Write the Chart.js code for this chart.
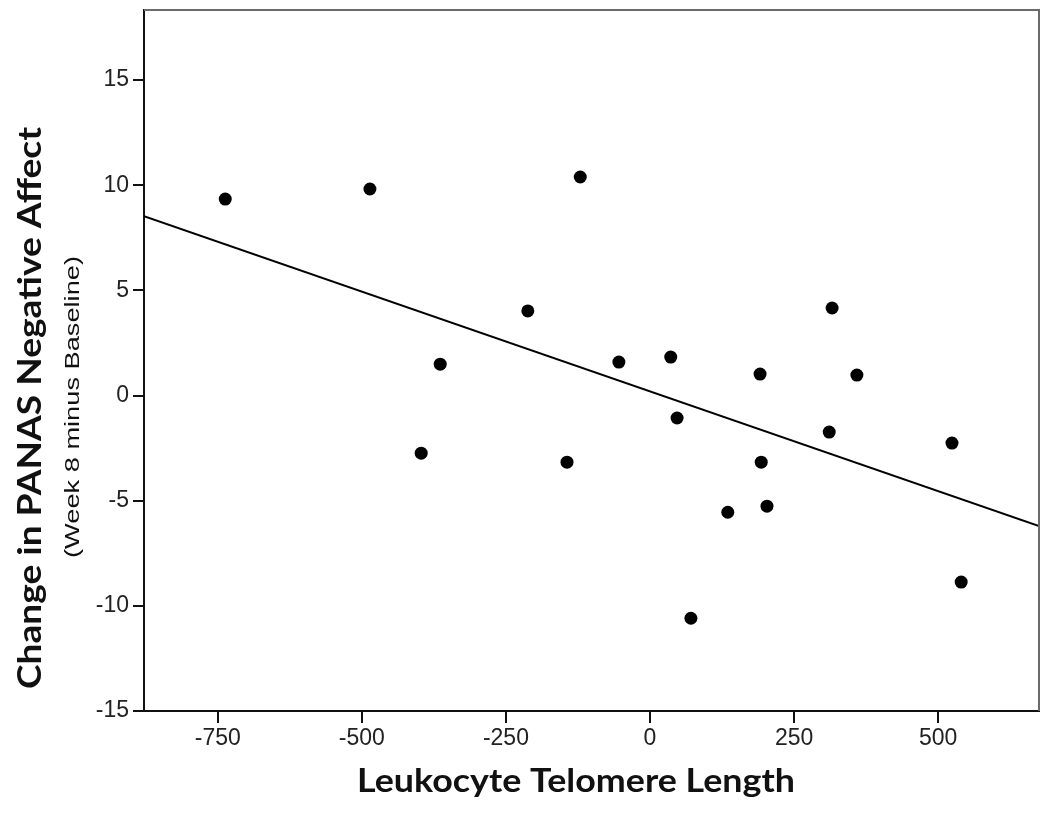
<!DOCTYPE html>
<html>
<head>
<meta charset="utf-8">
<script src="https://cdn.jsdelivr.net/npm/chart.js@4.4.1/dist/chart.umd.min.js"></script>
<style>
  html, body { margin: 0; padding: 0; background: #fff; }
  #wrap { width: 1050px; height: 822px; position: relative; }
</style>
</head>
<body>
<div id="wrap"><canvas id="chart" width="1050" height="822"></canvas></div>
<script>
// Leukocyte telomere length vs change in PANAS negative affect
const telomereLength = [-737, -486, -121, -212, -364, -397, -144, -54, 36, 47, 71, 135, 191, 193, 203, 316, 359, 311, 524, 540]
const panasChange = [9.34, 9.82, 10.39, 4.02, 1.49, -2.74, -3.17, 1.59, 1.83, -1.07, -10.59, -5.55, 1.02, -3.17, -5.26, 4.16, 0.97, -1.74, -2.26, -8.87]

// fitted line, read at the plot edges
const fitX = [-878, 675]
const fitY = [8.53, -6.21]

const xTickValues = [-750, -500, -250, 0, 250, 500]
const yTickValues = [-15, -10, -5, 0, 5, 10, 15]

const xTitle = "Leukocyte Telomere Length"
const yTitle = "Change in PANAS Negative Affect"
const ySubtitle = "(Week 8 minus Baseline)"

const tickFont = {family: "'Liberation Sans', Arial, sans-serif", size: 23}

// draws text squeezed/stretched to a given width
const fitText = (ctx, text, font, width) => {
  ctx.font = font
  const w = ctx.measureText(text).width
  ctx.save()
  ctx.scale(width / w, 1)
  ctx.fillText(text, 0, 0)
  ctx.restore()
}

const framePlugin = {
  id: "frame",
  afterDraw(chart) {
    const {ctx, chartArea: a} = chart
    ctx.save()
    ctx.strokeStyle = "#6a6a6a"
    ctx.lineWidth = 2
    ctx.beginPath()
    ctx.moveTo(a.left, a.top)
    ctx.lineTo(a.right, a.top)
    ctx.lineTo(a.right, a.bottom)
    ctx.stroke()

    ctx.fillStyle = "#111"
    ctx.textAlign = "center"
    ctx.textBaseline = "alphabetic"

    // x title
    ctx.save()
    ctx.translate(576, 792)
    fitText(ctx, xTitle, "bold 32px Lato, 'Open Sans', sans-serif", 438)
    ctx.restore()

    // y title
    ctx.save()
    ctx.translate(41, 408)
    ctx.rotate(-Math.PI / 2)
    fitText(ctx, yTitle, "bold 33px Lato, 'Open Sans', sans-serif", 562)
    ctx.restore()

    // y subtitle
    ctx.save()
    ctx.translate(79, 407)
    ctx.rotate(-Math.PI / 2)
    fitText(ctx, ySubtitle, "21px 'Liberation Sans', sans-serif", 302)
    ctx.restore()

    ctx.restore()
  }
}

new Chart(document.getElementById("chart"), {
  type: "scatter",
  data: {
    datasets: [
      {
        label: "participants",
        data: telomereLength.map((x, i) => ({x, y: panasChange[i]})),
        pointRadius: 6.5,
        pointBackgroundColor: "#000",
        pointBorderWidth: 0,
        order: 1
      },
      {
        type: "line",
        label: "fit",
        data: fitX.map((x, i) => ({x, y: fitY[i]})),
        borderColor: "#000",
        borderWidth: 2,
        pointRadius: 0,
        fill: false,
        order: 2
      }
    ]
  },
  options: {
    responsive: false,
    animation: false,
    devicePixelRatio: 1,
    layout: {padding: {left: 0, top: 10, right: 11, bottom: 0}},
    plugins: {legend: {display: false}, tooltip: {enabled: false}},
    scales: {
      x: {
        type: "linear",
        min: -878,
        max: 675,
        afterBuildTicks: (scale) => { scale.ticks = xTickValues.map(value => ({value})) },
        afterFit: (scale) => {
          scale.height = 111
          scale.paddingLeft = 0
          scale.paddingRight = 0
        },
        grid: {drawOnChartArea: false, tickLength: 12, color: "#111", lineWidth: 2},
        border: {color: "#111", width: 2},
        ticks: {color: "#222", font: tickFont, padding: 2, maxRotation: 0}
      },
      y: {
        type: "linear",
        min: -15,
        max: 18.33,
        afterBuildTicks: (scale) => { scale.ticks = yTickValues.map(value => ({value})) },
        afterFit: (scale) => {
          scale.width = 144
          scale.paddingTop = 0
          scale.paddingBottom = 0
        },
        grid: {drawOnChartArea: false, tickLength: 11, color: "#111", lineWidth: 2},
        border: {color: "#111", width: 2},
        ticks: {color: "#222", font: tickFont, padding: 4}
      }
    }
  },
  plugins: [framePlugin]
})
</script>
</body>
</html>
